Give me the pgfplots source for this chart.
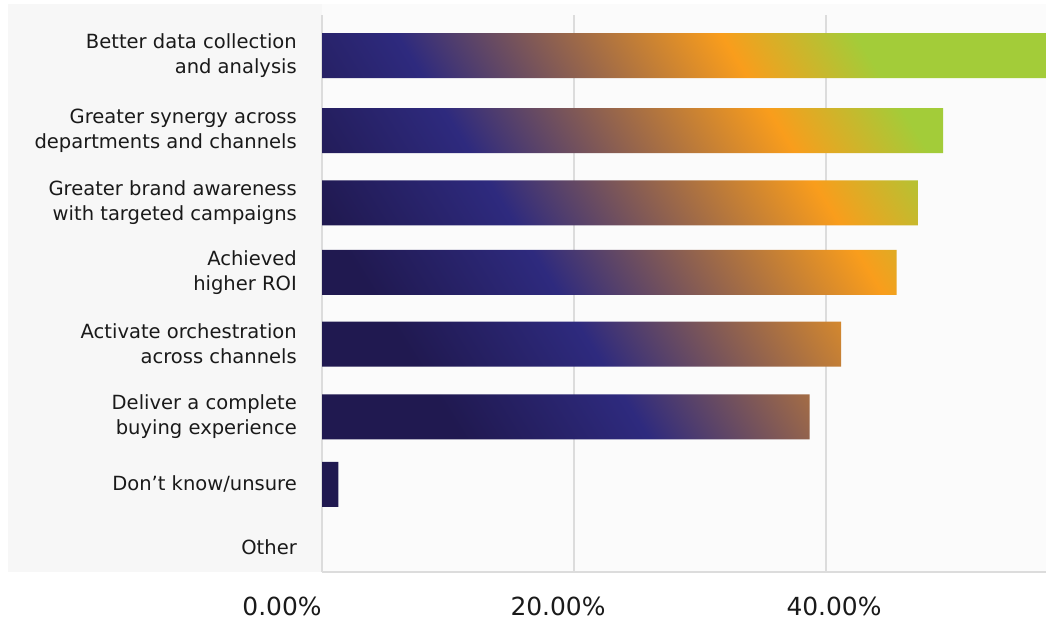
\documentclass[border=0pt]{standalone}
\usepackage{fontspec}
\setmainfont{DejaVu Sans}
\usepackage{pgfplots}
\pgfplotsset{compat=1.18}
\definecolor{gdark}{RGB}{32,25,80}
\definecolor{gblue}{RGB}{46,42,126}
\definecolor{gorange}{RGB}{249,157,28}
\definecolor{ggreen}{RGB}{163,204,57}
\definecolor{bgc}{RGB}{247,247,247}
\definecolor{plotbg}{RGB}{251,251,251}
\definecolor{gridc}{RGB}{220,220,220}
\definecolor{txt}{RGB}{26,26,26}
\pgfdeclarehorizontalshading{bargrad}{100bp}{color(0bp)=(gdark); color(33.83bp)=(gdark); color(43.74bp)=(gblue); color(61.01bp)=(gorange); color(68.17bp)=(ggreen); color(100bp)=(ggreen)}
\begin{document}
\begin{tikzpicture}
\fill[bgc] (8bp,49bp) rectangle (1046bp,617bp);
\fill[plotbg] (322bp,49bp) rectangle (1046bp,617bp);
\begin{axis}[
  at={(322bp,49bp)}, anchor=south west,
  scale only axis, width=724bp, height=557bp,
  xmin=0, xmax=57.46, ymin=-0.36, ymax=7.58,
  xtick={0,20,40}, xticklabels={},
  xmajorgrids, grid style={draw=gridc, line width=1.5bp},
  ytick={0,0.89,1.85,2.89,3.91,4.90,5.93,7.0},
  yticklabels={Other, Don’t know/unsure, {Deliver a complete\\buying experience}, {Activate orchestration\\across channels}, {Achieved\\higher ROI}, {Greater brand awareness\\with targeted campaigns}, {Greater synergy across\\departments and channels}, {Better data collection\\and analysis}},
  yticklabel style={align=right, font=\fontsize{19.6}{25}\selectfont, text=txt, inner sep=0pt, xshift=-25bp},
  major tick length=0pt,
  axis lines*=left,
  axis line style={draw=gridc, line width=1.5bp, -},
]
\addplot[xbar, bar width=45bp, draw=none, fill=none,
  path picture={\shade[path picture={}, shading=bargrad, shading angle=32] ([shift={(-400bp,-400bp)}]axis cs:28.41,3.517) rectangle ([shift={(400bp,400bp)}]axis cs:28.41,3.517);}]
coordinates {(57.5,7.0) (49.3,5.93) (47.3,4.90) (45.6,3.91) (41.2,2.89) (38.7,1.85) (1.3,0.89)};
\end{axis}
\node[anchor=base, font=\fontsize{25}{30}\selectfont, text=txt] at (282bp,6bp) {0.00\%};
\node[anchor=base, font=\fontsize{25}{30}\selectfont, text=txt] at (558bp,6bp) {20.00\%};
\node[anchor=base, font=\fontsize{25}{30}\selectfont, text=txt] at (834bp,6bp) {40.00\%};
\pgfresetboundingbox
\path (0,0) rectangle (1046bp,621bp);
\end{tikzpicture}
\end{document}
